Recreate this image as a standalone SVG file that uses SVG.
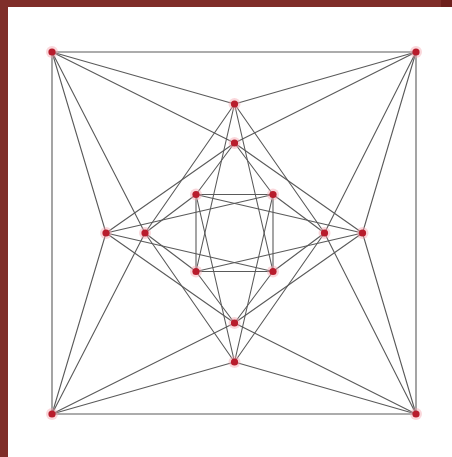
<svg xmlns="http://www.w3.org/2000/svg" width="452" height="457" viewBox="0 0 452 457">
<style>
.e{stroke:#5a5a5a;stroke-width:1.1;fill:none;stroke-linecap:round}
.n{fill:#b81c2c}
.h{fill:#f3a6b0;opacity:0.45}
</style>
<defs>
<g id="dot"><circle class="h" r="6"/><circle class="n" r="3.6"/></g>
</defs>
<rect x="0" y="0" width="452" height="457" fill="#ffffff"/>
<rect x="0" y="0" width="452" height="7" fill="#7f2e29"/>
<rect x="0" y="0" width="8" height="457" fill="#7f2e29"/>
<rect x="441" y="0" width="11" height="7" fill="#6e201c"/>
<g id="connectors">
<!-- outer square -->
<line class="e" x1="52" y1="52" x2="416" y2="52"/>
<line class="e" x1="416" y1="52" x2="416" y2="414"/>
<line class="e" x1="416" y1="414" x2="52" y2="414"/>
<line class="e" x1="52" y1="414" x2="52" y2="52"/>
<!-- TL corner -->
<line class="e" x1="52" y1="52" x2="234.5" y2="104"/>
<line class="e" x1="52" y1="52" x2="234.5" y2="143"/>
<line class="e" x1="52" y1="52" x2="106" y2="233"/>
<line class="e" x1="52" y1="52" x2="145" y2="233"/>
<!-- TR corner -->
<line class="e" x1="416" y1="52" x2="234.5" y2="104"/>
<line class="e" x1="416" y1="52" x2="234.5" y2="143"/>
<line class="e" x1="416" y1="52" x2="362.5" y2="233"/>
<line class="e" x1="416" y1="52" x2="324.5" y2="233"/>
<!-- BR corner -->
<line class="e" x1="416" y1="414" x2="362.5" y2="233"/>
<line class="e" x1="416" y1="414" x2="324.5" y2="233"/>
<line class="e" x1="416" y1="414" x2="234.5" y2="362"/>
<line class="e" x1="416" y1="414" x2="234.5" y2="323"/>
<!-- BL corner -->
<line class="e" x1="52" y1="414" x2="234.5" y2="362"/>
<line class="e" x1="52" y1="414" x2="234.5" y2="323"/>
<line class="e" x1="52" y1="414" x2="106" y2="233"/>
<line class="e" x1="52" y1="414" x2="145" y2="233"/>
<!-- inner square -->
<line class="e" x1="196" y1="194.5" x2="273" y2="194.5"/>
<line class="e" x1="273" y1="194.5" x2="273" y2="271.5"/>
<line class="e" x1="273" y1="271.5" x2="196" y2="271.5"/>
<line class="e" x1="196" y1="271.5" x2="196" y2="194.5"/>
<!-- outer arm nodes to far inner -->
<line class="e" x1="234.5" y1="104" x2="196" y2="271.5"/>
<line class="e" x1="234.5" y1="104" x2="273" y2="271.5"/>
<line class="e" x1="362.5" y1="233" x2="196" y2="194.5"/>
<line class="e" x1="362.5" y1="233" x2="196" y2="271.5"/>
<line class="e" x1="234.5" y1="362" x2="196" y2="194.5"/>
<line class="e" x1="234.5" y1="362" x2="273" y2="194.5"/>
<line class="e" x1="106" y1="233" x2="273" y2="194.5"/>
<line class="e" x1="106" y1="233" x2="273" y2="271.5"/>
<!-- inner arm nodes to near inner -->
<line class="e" x1="234.5" y1="143" x2="196" y2="194.5"/>
<line class="e" x1="234.5" y1="143" x2="273" y2="194.5"/>
<line class="e" x1="324.5" y1="233" x2="273" y2="194.5"/>
<line class="e" x1="324.5" y1="233" x2="273" y2="271.5"/>
<line class="e" x1="234.5" y1="323" x2="196" y2="271.5"/>
<line class="e" x1="234.5" y1="323" x2="273" y2="271.5"/>
<line class="e" x1="145" y1="233" x2="196" y2="194.5"/>
<line class="e" x1="145" y1="233" x2="196" y2="271.5"/>
<!-- arm to arm -->
<line class="e" x1="234.5" y1="104" x2="145" y2="233"/>
<line class="e" x1="234.5" y1="104" x2="324.5" y2="233"/>
<line class="e" x1="234.5" y1="362" x2="145" y2="233"/>
<line class="e" x1="234.5" y1="362" x2="324.5" y2="233"/>
<line class="e" x1="234.5" y1="143" x2="106" y2="233"/>
<line class="e" x1="234.5" y1="143" x2="362.5" y2="233"/>
<line class="e" x1="234.5" y1="323" x2="106" y2="233"/>
<line class="e" x1="234.5" y1="323" x2="362.5" y2="233"/>
</g>
<g id="nodes">
<g id="n-tl"><use href="#dot" x="52" y="52"/></g>
<g id="n-tr"><use href="#dot" x="416" y="52"/></g>
<g id="n-br"><use href="#dot" x="416" y="414"/></g>
<g id="n-bl"><use href="#dot" x="52" y="414"/></g>
<g id="n-t1"><use href="#dot" x="234.5" y="104"/></g>
<g id="n-t2"><use href="#dot" x="234.5" y="143"/></g>
<g id="n-b2"><use href="#dot" x="234.5" y="323"/></g>
<g id="n-b1"><use href="#dot" x="234.5" y="362"/></g>
<g id="n-l1"><use href="#dot" x="106" y="233"/></g>
<g id="n-l2"><use href="#dot" x="145" y="233"/></g>
<g id="n-r2"><use href="#dot" x="324.5" y="233"/></g>
<g id="n-r1"><use href="#dot" x="362.5" y="233"/></g>
<g id="n-itl"><use href="#dot" x="196" y="194.5"/></g>
<g id="n-itr"><use href="#dot" x="273" y="194.5"/></g>
<g id="n-ibl"><use href="#dot" x="196" y="271.5"/></g>
<g id="n-ibr"><use href="#dot" x="273" y="271.5"/></g>
</g>
</svg>
